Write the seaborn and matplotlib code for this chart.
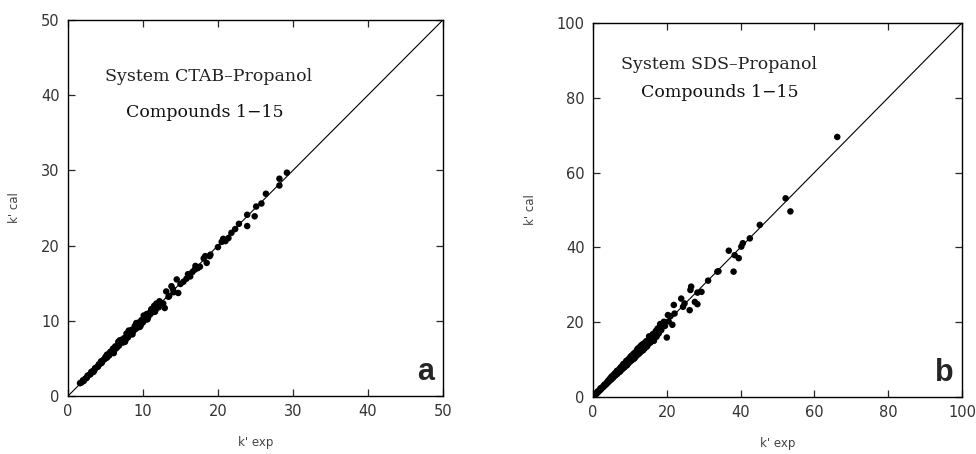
import matplotlib
matplotlib.use("Agg")
import matplotlib.pyplot as plt
import seaborn as sns
import pandas as pd

# panel a: CTAB-Propanol
a_exp = [1.6, 1.8, 2.0, 2.1, 2.3, 2.5, 2.6, 2.8, 3.0, 3.1, 3.3, 3.5, 3.6, 3.8, 4.0, 4.1, 4.3, 4.5,
         4.7, 4.9, 5.0, 5.2, 5.4, 5.5, 5.7, 5.9, 6.0, 6.2, 6.3, 6.5, 6.7, 6.8, 7.0, 7.2, 7.3, 7.5,
         7.7, 7.9, 8.0, 8.2, 8.4, 8.5, 8.7, 8.9, 9.0, 9.2, 9.3, 9.5, 9.7, 9.8, 10.0, 10.2, 10.3,
         10.5, 10.7, 10.8, 11.0, 11.2, 11.3, 11.5, 11.7, 11.9, 12.1, 12.3, 12.5, 12.9, 13.1, 13.4,
         13.8, 14.1, 14.5, 14.7, 15.0, 15.4, 15.8, 16.3, 16.6, 16.9, 17.3, 17.6, 18.1, 18.5, 18.9,
         20.0, 20.7, 21.4, 21.8, 22.3, 22.8, 23.9, 23.9, 24.9, 25.1, 25.8, 26.4, 28.2, 28.2, 29.2,
         5.2, 7.8, 10.5, 11.8, 12.0, 13.5, 14.0, 16.0, 17.0, 18.3, 19.0, 20.5, 21.0,
         6.1, 6.9, 7.6, 8.1, 8.6, 9.1, 9.6, 10.1, 10.6, 11.1, 11.6, 12.2, 12.7, 3.4, 4.4, 5.6]
a_cal = [1.7, 1.8, 2.1, 2.0, 2.3, 2.4, 2.7, 2.8, 2.9, 3.2, 3.3, 3.4, 3.7, 3.8, 3.9, 4.2, 4.3, 4.4,
         4.8, 4.9, 5.2, 5.1, 5.5, 5.4, 5.9, 5.8, 6.3, 6.1, 6.6, 6.4, 7.2, 6.7, 7.1, 7.5, 7.1, 7.7,
         7.5, 8.0, 7.8, 8.4, 8.2, 8.8, 8.6, 9.3, 8.9, 9.6, 9.1, 9.8, 9.4, 10.1, 9.8, 10.6, 10.2,
         10.9, 10.5, 11.0, 10.9, 11.6, 11.2, 12.0, 11.5, 12.1, 11.8, 12.4, 12.2, 11.7, 13.9, 13.2,
         14.6, 13.8, 15.5, 13.7, 14.9, 15.2, 15.6, 15.9, 16.5, 16.8, 17.0, 17.2, 18.3, 17.7, 18.6,
         19.8, 20.9, 21.0, 21.7, 22.2, 22.9, 24.1, 22.6, 23.9, 25.2, 25.6, 26.9, 28.9, 28.0, 29.7,
         5.5, 8.3, 10.2, 12.3, 12.2, 13.3, 14.2, 16.2, 17.3, 18.6, 18.8, 20.5, 20.6,
         5.7, 7.4, 7.2, 8.7, 8.2, 9.7, 9.2, 10.7, 10.2, 11.5, 11.2, 12.6, 12.3, 3.2, 4.6, 5.8]

# panel b: SDS-Propanol
b_exp = [0.5, 0.8, 1.0, 1.3, 1.5, 1.8, 2.0, 2.3, 2.5, 2.8, 3.0, 3.3, 3.5, 3.8, 4.0, 4.3, 4.5, 4.8,
         5.0, 5.3, 5.5, 5.8, 6.0, 6.3, 6.5, 6.8, 7.0, 7.3, 7.5, 7.8, 8.0, 8.3, 8.5, 8.8, 9.0, 9.3,
         9.5, 9.8, 10.0, 10.3, 10.5, 10.8, 11.0, 11.3, 11.5, 11.8, 12.0, 12.3, 12.5, 12.8, 13.0,
         13.3, 13.5, 13.8, 14.0, 14.4, 14.8, 15.2, 15.5, 16.0, 16.5, 16.8, 17.2, 17.5, 17.8, 18.2,
         18.5, 19.2, 18.8, 20.0, 20.3, 21.0, 21.5, 22.1, 21.9, 23.9, 24.4, 24.8, 26.2, 26.4, 26.6,
         27.6, 28.3, 28.3, 29.4, 31.2, 33.7, 34.0, 36.8, 38.1, 38.4, 39.5, 40.2, 40.6, 42.5, 45.2,
         52.2, 53.5, 66.2,
         12.2, 13.0, 14.5, 15.8, 16.2, 17.0, 9.0, 10.5, 11.0, 7.5, 6.0, 5.0, 4.0, 3.0, 2.0, 1.2,
         19.5, 20.5, 18.0, 12.5, 14.2,
         6.5, 7.2, 8.2, 9.2, 10.2, 11.2, 12.0, 13.6, 14.6, 15.4, 16.4, 17.4, 4.6, 5.6]
b_cal = [0.6, 0.7, 1.1, 1.2, 1.6, 1.7, 2.0, 2.2, 2.6, 2.7, 2.9, 3.4, 3.3, 3.9, 3.8, 4.5, 4.3, 5.0,
         4.7, 5.6, 5.2, 6.1, 5.7, 6.5, 6.1, 7.1, 6.6, 7.6, 7.0, 8.2, 7.5, 8.6, 7.9, 9.2, 8.4, 9.8,
         8.9, 10.3, 9.4, 10.6, 9.8, 11.3, 10.2, 11.8, 10.7, 12.3, 11.2, 12.8, 11.6, 13.5, 12.1,
         14.0, 12.6, 14.3, 13.0, 14.9, 13.8, 16.2, 14.5, 15.6, 15.0, 17.0, 16.1, 18.3, 17.0, 19.5,
         17.9, 20.1, 18.8, 15.9, 21.9, 21.6, 19.3, 22.3, 24.6, 26.3, 24.1, 25.0, 23.2, 28.6, 29.5,
         25.4, 24.8, 27.9, 28.1, 31.1, 33.5, 33.6, 39.1, 33.5, 37.9, 37.1, 40.2, 41.1, 42.4, 46.0,
         53.1, 49.6, 69.5,
         13.0, 13.7, 13.4, 14.9, 16.8, 17.6, 9.6, 11.0, 11.5, 7.9, 6.4, 5.4, 4.2, 3.2, 2.3, 1.4,
         19.0, 20.2, 18.5, 12.6, 14.5,
         7.0, 6.7, 8.8, 8.5, 10.8, 10.3, 12.7, 12.5, 13.6, 15.9, 15.3, 16.6, 4.9, 5.9]

panels = [
    dict(exp=a_exp, cal=a_cal, lim=50, step=10, title1="System CTAB\u2013Propanol",
         title2="Compounds 1\u221215", tag="a"),
    dict(exp=b_exp, cal=b_cal, lim=100, step=20, title1="System SDS\u2013Propanol",
         title2="Compounds 1\u221215", tag="b"),
]

sns.set_style("ticks")
plt.rcParams['font.family'] = ['DejaVu Sans']

fig = plt.figure(figsize=(9.76, 4.54), dpi=100)
ax_a = fig.add_axes([0.0697, 0.1278, 0.384, 0.828])
ax_b = fig.add_axes([0.6076, 0.1256, 0.378, 0.824])

# text anchors (left, vertical centre) in axes fractions
text_pos = [((0.099, 0.851), (0.155, 0.755)), ((0.076, 0.888), (0.130, 0.813))]

for ax, p, tp in zip([ax_a, ax_b], panels, text_pos):
    df = pd.DataFrame({"exp": p["exp"], "cal": p["cal"]})
    line = pd.DataFrame({"x": [0, p["lim"]], "y": [0, p["lim"]]})
    sns.lineplot(data=line, x="x", y="y", ax=ax, color="black", lw=0.8)
    sns.scatterplot(data=df, x="exp", y="cal", ax=ax, color="black", s=22,
                    edgecolor="none", linewidth=0)
    ax.set_xlim(0, p["lim"])
    ax.set_ylim(0, p["lim"])
    ticks = list(range(0, p["lim"] + 1, p["step"]))
    ax.set_xticks(ticks)
    ax.set_yticks(ticks)
    ax.tick_params(direction="in", top=True, right=True, length=5, width=0.9,
                   labelsize=10.5, labelcolor="#333333", pad=6)
    for sp in ax.spines.values():
        sp.set_linewidth(1.0)
        sp.set_color("black")
    ax.set_xlabel("k' exp", fontsize=8.5, color="#444444", labelpad=12)
    ax.set_ylabel("k' cal", fontsize=8.5, color="#444444", labelpad=14)
    ax.text(tp[0][0], tp[0][1], p["title1"], transform=ax.transAxes, fontsize=12.5,
            family="DejaVu Serif", color="#222222", va="center")
    ax.text(tp[1][0], tp[1][1], p["title2"], transform=ax.transAxes, fontsize=12.5,
            family="DejaVu Serif", color="#111111", va="center")
    ax.text(0.978, 0.025, p["tag"], transform=ax.transAxes, fontsize=22,
            fontweight="bold", family="Liberation Sans", ha="right", va="bottom")

fig.savefig("out.png", dpi=100)
